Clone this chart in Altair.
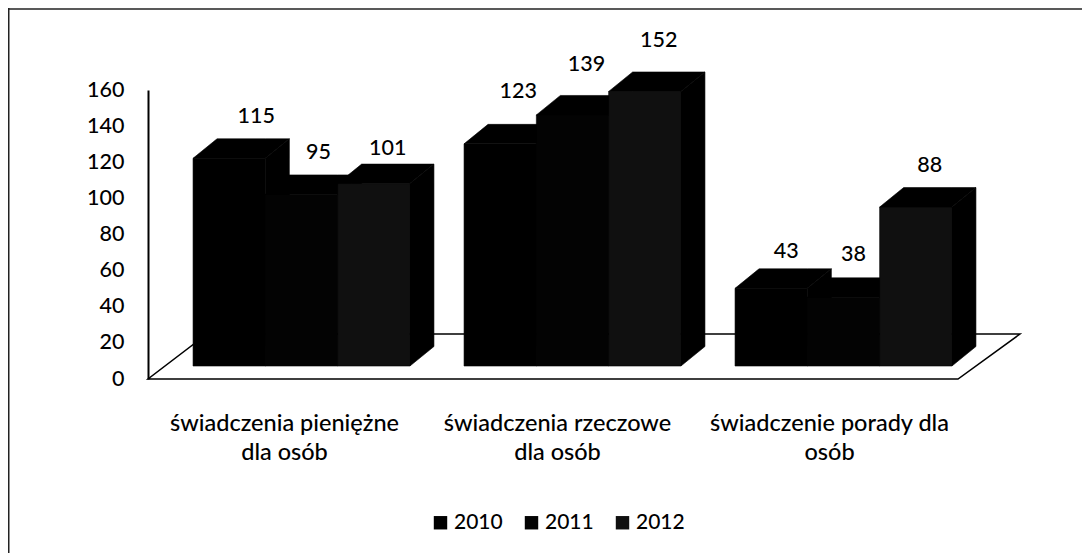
import altair as alt
import pandas as pd

categories = ["świadczenia pieniężne dla osób", "świadczenia rzeczowe dla osób", "świadczenie porady dla osób"]
years = ["2010", "2011", "2012"]
values_2010 = [115, 123, 43]
values_2011 = [95, 139, 38]
values_2012 = [101, 152, 88]
y_ticks = [0, 20, 40, 60, 80, 100, 120, 140, 160]
series = {"2010": values_2010, "2011": values_2011, "2012": values_2012}

# layout (plot area = whole page area, px)
W, H = 1074, 545
X0, GROUP_PX = 293.5, 271.0
Y0, PX_PER_UNIT = 371.0, 1.806
BAR = 72.3 / GROUP_PX
DX = 24.0 / GROUP_PX
DY = 19.5 / PX_PER_UNIT
BASE = 13.0 / PX_PER_UNIT
FONT = "Lato"
FS = 21.5
WEIGHT = 500


def gx(px):
    return (px - X0) / GROUP_PX


def vy(px):
    return (Y0 - px) / PX_PER_UNIT


NUDGE_X = [[27, 17, 14], [18, 14, 14], [15, 10, 14]]
NUDGE_Y = [[22, 22, 15], [32, 30, 31], [17, 23, 22]]

front, poly, labels = [], [], []
for g, cat in enumerate(categories):
    for i, yr in enumerate(years):
        v = series[yr][g]
        l = g + (i - 1.5) * BAR
        r = l + BAR
        top = BASE + v
        front.append(dict(year=yr, l=l, r=r, top=top, base=BASE))
        pid = f"{g}-{i}"
        # side face
        poly += [
            dict(id=pid + "s", x=r, a=BASE, b=top),
            dict(id=pid + "s", x=r + DX, a=BASE + DY, b=top + DY),
        ]
        # top face
        poly += [
            dict(id=pid + "t", x=l, a=top, b=top),
            dict(id=pid + "t", x=l + DX, a=top, b=top + DY),
            dict(id=pid + "t", x=r, a=top, b=top + DY),
            dict(id=pid + "t", x=r + DX, a=top + DY, b=top + DY),
        ]
        labels.append(dict(
            x=(l + r) / 2 + NUDGE_X[g][i] / GROUP_PX,
            y=top + DY + NUDGE_Y[g][i] / PX_PER_UNIT,
            text=str(v),
        ))

floor = pd.DataFrame([
    dict(x=gx(140), a=vy(371), b=vy(371)),
    dict(x=gx(199), a=vy(371), b=vy(326)),
    dict(x=gx(950), a=vy(371), b=vy(326)),
    dict(x=gx(1012), a=vy(326), b=vy(326)),
])

xs = alt.Scale(domain=[gx(0), gx(W)], range=[0, W])
ys = alt.Scale(domain=[0, 160], range=[Y0, Y0 - 160 * PX_PER_UNIT])

LABEL_POS = [gx(276), gx(549), gx(821)]
label_expr = (
    f"datum.value < {LABEL_POS[0] + 0.1} ? ['świadczenia pieniężne', 'dla osób'] : "
    f"datum.value < {LABEL_POS[1] + 0.1} ? ['świadczenia rzeczowe', 'dla osób'] : "
    "['świadczenie porady dla', 'osób']"
)

floor_l = alt.Chart(floor).mark_area(fill="white", stroke="black", strokeWidth=1.5).encode(
    x=alt.X("x:Q", scale=xs, axis=alt.Axis(
        values=LABEL_POS, labelExpr=label_expr, title=None, domain=False, ticks=False, grid=False,
        offset=371 - H, labelPadding=44, labelFont=FONT, labelFontSize=23.5, labelFontWeight=WEIGHT,
        labelColor="black", labelLimit=400, labelLineHeight=29, labelBaseline="middle",
        labelAlign="center", labelOverlap=False,
    )),
    y=alt.Y("a:Q", scale=ys, axis=alt.Axis(
        values=y_ticks, title=None, grid=False, ticks=False, offset=-140, labelPadding=24,
        labelFont=FONT, labelFontSize=FS, labelFontWeight=WEIGHT, labelColor="black",
        domainColor="black", domainWidth=2,
    )),
    y2="b:Q",
)

sides = alt.Chart(pd.DataFrame(poly)).mark_area(fill="#000000", stroke="#000000", strokeWidth=0.6).encode(
    x=alt.X("x:Q", scale=xs), y=alt.Y("a:Q", scale=ys), y2="b:Q", detail="id:N",
)

fronts = alt.Chart(pd.DataFrame(front)).mark_rect(stroke="#000000", strokeWidth=0.6).encode(
    x=alt.X("l:Q", scale=xs), x2="r:Q",
    y=alt.Y("base:Q", scale=ys), y2="top:Q",
    color=alt.Color("year:N", scale=alt.Scale(domain=years, range=["#000000", "#030303", "#101010"]),
                    legend=alt.Legend(
                        orient="none", legendX=422, legendY=504, direction="horizontal", columns=3,
                        title=None, symbolType="square", symbolSize=180, symbolStrokeWidth=0,
                        labelFont=FONT, labelFontSize=21, labelFontWeight=WEIGHT, labelColor="black",
                        columnPadding=18, labelOffset=3,
                    )),
)

text = alt.Chart(pd.DataFrame(labels)).mark_text(
    font=FONT, fontSize=FS, fontWeight=WEIGHT, color="black", baseline="middle"
).encode(
    x=alt.X("x:Q", scale=xs), y=alt.Y("y:Q", scale=ys), text="text:N",
)

one = pd.DataFrame({"a": [0]})
frame_top = alt.Chart(one).mark_rule(color="#222222", strokeWidth=1.5).encode(
    x=alt.value(0), x2=alt.value(W), y=alt.value(1)
)
frame_left = alt.Chart(one).mark_rule(color="#222222", strokeWidth=3).encode(
    x=alt.value(0), y=alt.value(0), y2=alt.value(H)
)

chart = (frame_top + frame_left + floor_l + sides + fronts + text).properties(
    width=W, height=H, padding=0, autosize=alt.AutoSizeParams(type="none"),
).configure_view(stroke=None)

chart.save("out.html", embed_options={"renderer": "svg", "actions": False})
